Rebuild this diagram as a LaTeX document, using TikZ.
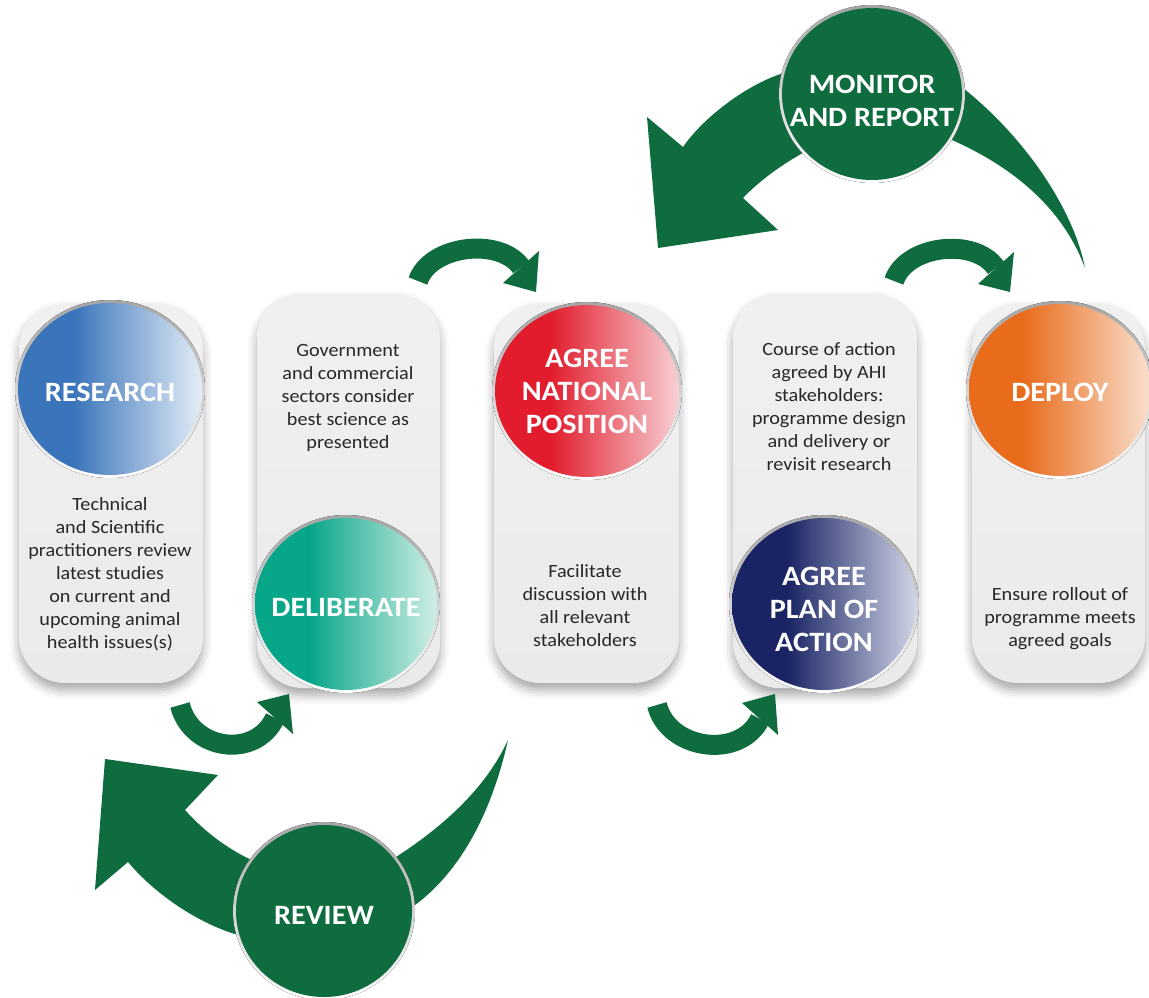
\documentclass[tikz,border=0pt]{standalone}
\usepackage{fontspec}
\setmainfont{Carlito}[FakeStretch=1.08]
\usetikzlibrary{shadows.blur}
\definecolor{arrowgreen}{RGB}{14,108,62}
\definecolor{panelgray}{RGB}{234,234,234}
\definecolor{bodytext}{RGB}{40,40,40}
\definecolor{resA}{RGB}{58,116,186}\definecolor{resB}{RGB}{228,237,247}
\definecolor{delA}{RGB}{8,166,136}\definecolor{delB}{RGB}{208,238,231}
\definecolor{natA}{RGB}{226,28,44}\definecolor{natB}{RGB}{247,208,212}
\definecolor{planA}{RGB}{26,36,100}\definecolor{planB}{RGB}{208,212,230}
\definecolor{depA}{RGB}{232,108,28}\definecolor{depB}{RGB}{250,224,206}
\newcommand\mkshade[3]{\pgfdeclarehorizontalshading{#1}{100bp}{color(0bp)=(#2); color(25bp)=(#2); color(40bp)=(#2); color(75bp)=(#3); color(100bp)=(#3)}}
\mkshade{resshade}{resA}{resB}
\mkshade{delshade}{delA}{delB}
\mkshade{natshade}{natA}{natB}
\mkshade{planshade}{planA}{planB}
\mkshade{depshade}{depA}{depB}
\newcommand\bodysize{\fontsize{18.7}{23}\selectfont}
\newcommand\labsize{\fontsize{28}{33}\selectfont\bfseries}
\tikzset{
  panel/.style={top color=panelgray!70!white, bottom color=panelgray, rounded corners=46pt,
    blur shadow={shadow xshift=0pt, shadow yshift=-7pt, shadow blur radius=9pt, shadow opacity=35}},
  rim/.style={top color=black!35, bottom color=white},
  smallarc/.style={draw=arrowgreen, line width=20pt},
  greenfill/.style={fill=arrowgreen},
  bodytxt/.style={align=center, text=bodytext, font=\bodysize, inner sep=0pt},
  labtxt/.style={align=center, text=white, font=\labsize, inner sep=0pt}
}
\begin{document}
\begin{tikzpicture}[x=1pt,y=-1pt]
\useasboundingbox (0,0) rectangle (1149,998);
% panels
\path[panel] (19,303) rectangle (203,683);
\path[panel] (257,293) rectangle (440,688);
\path[panel] (494,303) rectangle (679,683);
\path[panel] (733,293) rectangle (917,688);
\path[panel] (972,303) rectangle (1145,683);
% small curved arrows
\draw[smallarc] (418,281) .. controls (430,245) and (500,237) .. (521,267);
\fill[greenfill] (503,283) -- (539,251) -- (536,292) -- cycle;
\draw[smallarc] (894,281) .. controls (906,245) and (975,237) .. (996,268);
\fill[greenfill] (978,284) -- (1014,252) -- (1010,292) -- cycle;
\draw[smallarc] (180,705) .. controls (191,750) and (255,760) .. (275,718);
\fill[greenfill] (257,702) -- (293,734) -- (289,694) -- cycle;
\draw[smallarc] (657,705) .. controls (668,750) and (740,760) .. (760,719);
\fill[greenfill] (742,703) -- (778,735) -- (775,694) -- cycle;
% big arrows
\fill[greenfill] (1085,268) .. controls (1075,215) and (1030,140) .. (958,84)
  -- (795,70) .. controls (755,78) and (705,115) .. (683,147)
  -- (647,117) -- (658,248) -- (778,230) -- (743,198)
  .. controls (760,180) and (785,162) .. (812,148)
  -- (945,137) .. controls (1000,160) and (1060,200) .. cycle;
\fill[greenfill] (508,740) .. controls (490,820) and (455,880) .. (405,912)
  -- (250,938) .. controls (210,930) and (160,900) .. (128,862)
  -- (95,890) -- (105,759) -- (218,775) -- (185,810)
  .. controls (205,832) and (228,850) .. (260,864)
  -- (385,864) .. controls (440,830) and (485,790) .. cycle;
% circles
\fill[rim] (110,389) ellipse (95 and 89);
\path[shading=resshade] (110,389) ellipse (92 and 86);
\fill[rim] (346,604) ellipse (94 and 89);
\path[shading=delshade] (346,604) ellipse (91 and 86);
\fill[rim] (587,391) ellipse (95 and 89);
\path[shading=natshade] (587,391) ellipse (92 and 86);
\fill[rim] (824,604) ellipse (95 and 89);
\path[shading=planshade] (824,604) ellipse (92 and 86);
\fill[rim] (1060,390) ellipse (94 and 89);
\path[shading=depshade] (1060,390) ellipse (91 and 86);
\fill[rim] (872,94) ellipse (93 and 89);
\fill[greenfill] (872,94) ellipse (90 and 86);
\fill[rim] (324,911) ellipse (91 and 89);
\fill[greenfill] (324,911) ellipse (88 and 86);
% circle labels
\node[labtxt] (research) at (110,392) {RESEARCH};
\node[labtxt] (deliberate) at (346,607) {DELIBERATE};
\node[labtxt] (national) at (587,391) {AGREE\\NATIONAL\\POSITION};
\node[labtxt] (plan) at (824,609) {AGREE\\PLAN OF\\ACTION};
\node[labtxt] (deploy) at (1060,392) {DEPLOY};
\node[labtxt] (monitor) at (872,101) {MONITOR\\AND REPORT};
\node[labtxt] (review) at (324,915) {REVIEW};
% panel texts
\node[bodytxt] (t1) at (110,574) {Technical\\and Scientific\\practitioners review\\latest studies\\on current and\\upcoming animal\\health issues(s)};
\node[bodytxt] (t2) at (348,398) {Government\\and commercial\\sectors consider\\best science as\\presented};
\node[bodytxt] (t3) at (585,606) {Facilitate\\discussion with\\all relevant\\stakeholders};
\node[bodytxt] (t4) at (829,407) {Course of action\\agreed by AHI\\stakeholders:\\programme design\\and delivery or\\revisit research};
\node[bodytxt] (t5) at (1060,619) {Ensure rollout of\\programme meets\\agreed goals};
\end{tikzpicture}
\end{document}
